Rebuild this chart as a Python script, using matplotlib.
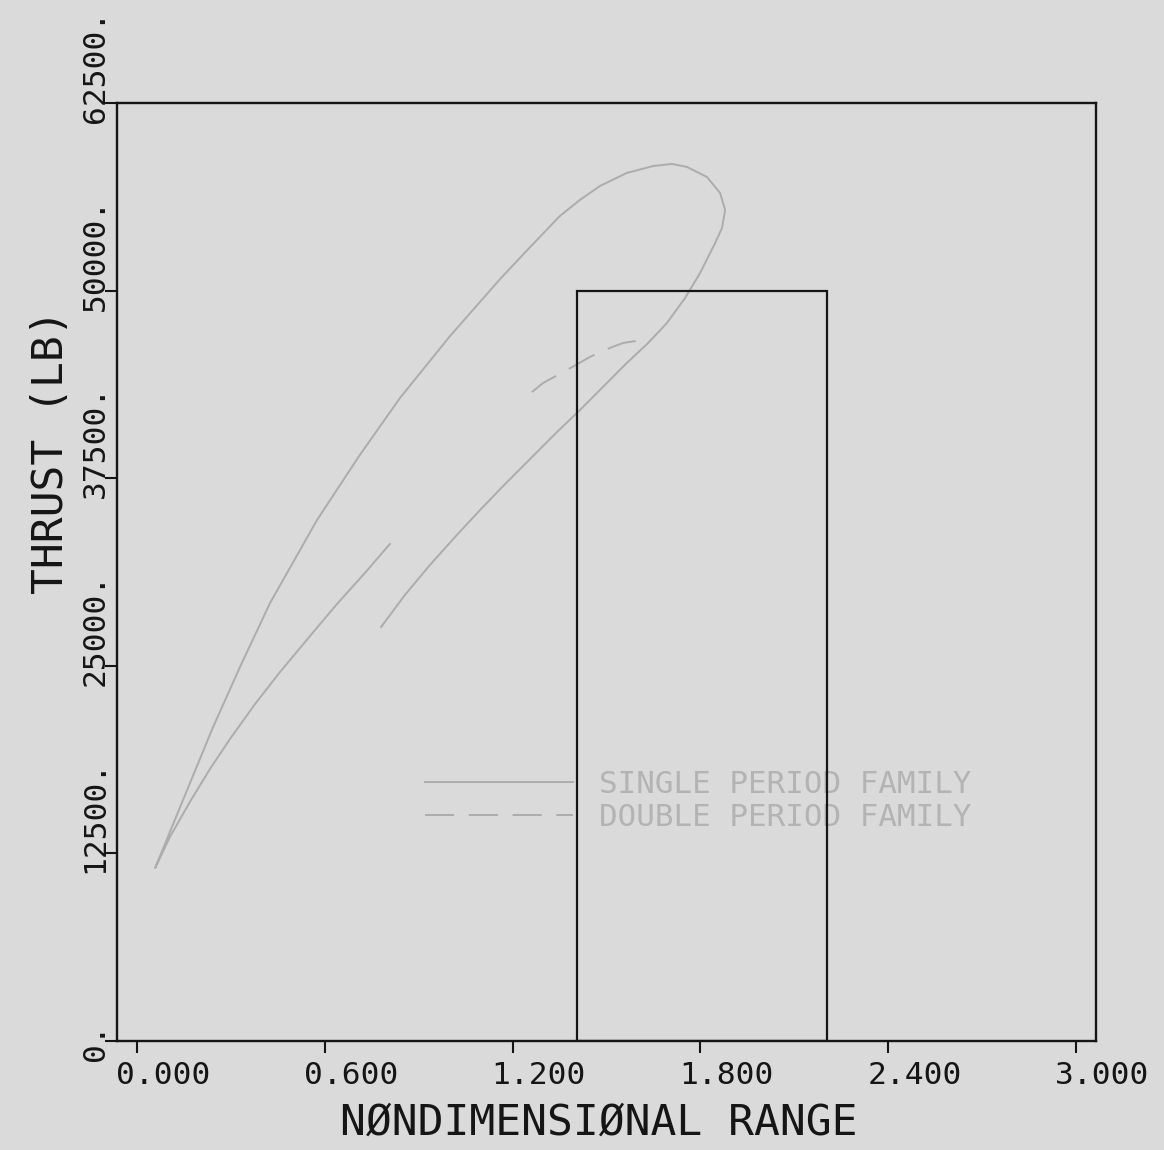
import matplotlib
matplotlib.use("Agg")
import matplotlib.pyplot as plt
from matplotlib.transforms import ScaledTranslation

# ---- data -----------------------------------------------------------------
# single period family: one continuous branch (short lower leg, start point,
# upper arc over the top of the loop, and the lower return branch)
single_x = [0.808, 0.728, 0.639, 0.553, 0.457, 0.377, 0.297, 0.233, 0.169,
            0.105, 0.058,
            0.147, 0.243, 0.329, 0.425, 0.575, 0.712, 0.840, 1.000, 1.160,
            1.256, 1.351, 1.415, 1.479, 1.565, 1.649, 1.709, 1.757, 1.821,
            1.863, 1.879, 1.869, 1.847, 1.799, 1.751, 1.693, 1.633, 1.565,
            1.415, 1.335, 1.256, 1.176, 1.096, 1.016, 0.936, 0.856, 0.780]
single_y = [33120, 31180, 29120, 26990, 24590, 22450, 20120, 18120, 15930,
            13590, 11530,
            16060, 20920, 24920, 29180, 34710, 39050, 42840, 46970, 50770,
            52900, 54970, 56040, 56970, 57840, 58300, 58440, 58240, 57570,
            56500, 55370, 54170, 53170, 51170, 49510, 47840, 46510, 45180,
            42040, 40440, 38780, 37110, 35380, 33580, 31720, 29720, 27590]

# double period family
double_x = [1.262, 1.297, 1.374, 1.447, 1.511, 1.553, 1.613]
double_y = [43240, 43840, 44710, 45580, 46180, 46510, 46710]

# operating box
box_left = 1.405
box_right = 2.205
box_thrust = 50000

xticks = [0.0, 0.6, 1.2, 1.8, 2.4, 3.0]
xtick_labels = ["0.000", "0.600", "1.200", "1.800", "2.400", "3.000"]
yticks = [0, 12500, 25000, 37500, 50000, 62500]
ytick_labels = ["0.", "12500.", "25000.", "37500.", "50000.", "62500."]

series_names = ["SINGLE PERIOD FAMILY", "DOUBLE PERIOD FAMILY"]

# ---- style ------------------------------------------------------------------
paper = "#dadada"
pencil = "#acacac"
ink = "#151515"
mono = ["DejaVu Sans Mono"]

fig = plt.figure(figsize=(11.64, 11.50), dpi=100, facecolor=paper)
W, H = 1164, 1150
ax = fig.add_axes([117 / W, (H - 1041) / H, (1096 - 117) / W, (1041 - 103) / H])
ax.set_facecolor(paper)

ax.plot(single_x, single_y, color=pencil, lw=1.4, zorder=2,
        solid_joinstyle="round", label=series_names[0])
ax.plot(double_x, double_y, color=pencil, lw=1.4, dashes=(15, 7.5), zorder=2,
        label=series_names[1])

ax.bar(box_left, box_thrust, width=box_right - box_left, align="edge",
       fill=False, edgecolor=ink, linewidth=1.6, zorder=4)

ax.set_xlim(-0.0639, 3.0639)
ax.set_ylim(0, 62500)

for s in ax.spines.values():
    s.set_color(ink)
    s.set_linewidth(1.7)

ax.set_xticks(xticks, xtick_labels)
ax.set_yticks(yticks, ytick_labels)
ax.tick_params(axis="both", direction="out", length=8.6, width=1.5,
               color=ink, labelcolor=ink, labelsize=22.5)
ax.tick_params(axis="x", pad=5.5)
ax.tick_params(axis="y", pad=0)

px = 1 / 100.0
for t in ax.xaxis.get_major_ticks():
    lab = t.label1
    lab.set_fontfamily(mono)
    lab.set_ha("left")
    lab.set_transform(lab.get_transform() +
                      ScaledTranslation(-21 * px, 0, fig.dpi_scale_trans))
for t in ax.yaxis.get_major_ticks():
    lab = t.label1
    lab.set_fontfamily(mono)
    lab.set_rotation(90)
    lab.set_ha("right")
    lab.set_va("bottom")
    lab.set_transform(lab.get_transform() +
                      ScaledTranslation(4.5 * px, -20 * px, fig.dpi_scale_trans))

ax.set_xlabel("NØNDIMENSIØNAL RANGE", fontsize=31, family=mono, color=ink)
ax.xaxis.set_label_coords((599 - 117) / 979, (1041 - 1101.5) / 938)
ax.set_ylabel("THRUST (LB)", fontsize=31, family=mono, color=ink)
ax.yaxis.set_label_coords((72 - 117) / 979, (1041 - 452) / 938)

leg = ax.legend(loc="upper left",
                bbox_to_anchor=((425 - 117) / 979, (1041 - 770) / 938),
                frameon=False, borderpad=0, borderaxespad=0,
                handlelength=4.8, handletextpad=0.83, labelspacing=0.13,
                prop={"family": mono, "size": 22.2}, labelcolor="#b3b3b3")
leg.set_zorder(1)

fig.savefig("out.png", dpi=100, facecolor=paper)
